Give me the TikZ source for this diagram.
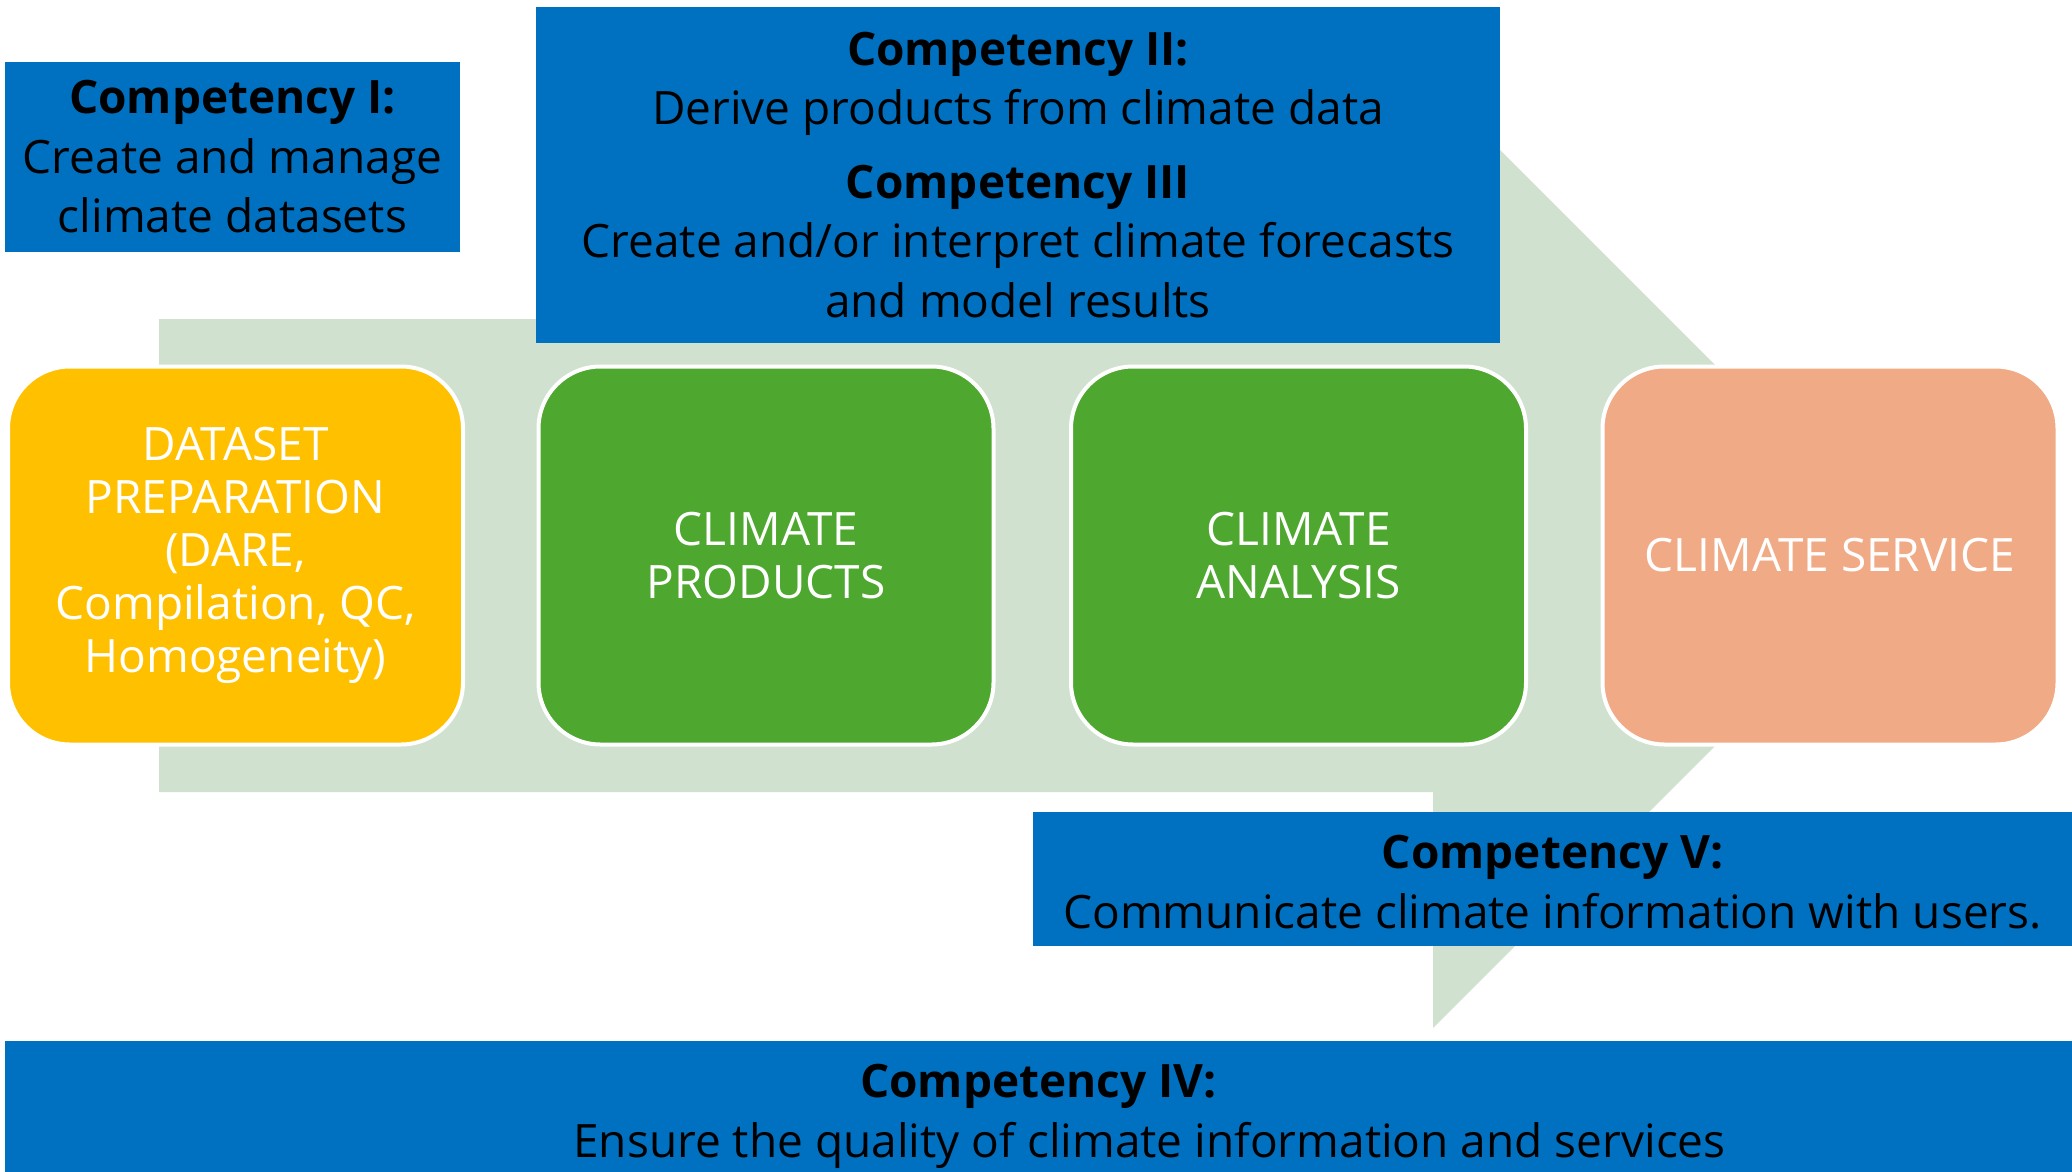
\documentclass[tikz,border=0pt]{standalone}
\usepackage{fontspec}
\setmainfont{Open Sans}
\definecolor{compblue}{HTML}{0070C0}
\definecolor{flowgreen}{HTML}{D0E2CF}
\definecolor{prepyellow}{HTML}{FFC000}
\definecolor{stepgreen}{HTML}{4EA72E}
\definecolor{serviceorange}{HTML}{F1AA86}
\tikzset{
  compbox/.style={fill=compblue, draw=none, inner sep=0pt, align=center,
    text=black, font=\fontsize{23}{29.75}\selectfont},
  comptext/.style={inner sep=0pt, align=center, text=black,
    font=\fontsize{23}{29.75}\selectfont},
  stagebox/.style={draw=white, line width=2pt, rounded corners=31pt,
    minimum width=227.5pt, minimum height=189pt, inner sep=0pt, align=center,
    text=white, font=\fontsize{23}{26.5}\selectfont},
}
\begin{document}
\begin{tikzpicture}[x=0.5pt, y=-0.5pt]
  % canvas
  \fill[white] (0,0) rectangle (2072,1172);
  \useasboundingbox (0,0) rectangle (2072,1172);

  % broad flow arrow behind the stages
  \fill[flowgreen] (159,319) -- (1433,319) -- (1433,83) -- (1905.5,555.5)
    -- (1433,1028) -- (1433,792) -- (159,792) -- cycle;

  % competency labels
  \node[compbox, minimum width=227.5pt, minimum height=95pt] (c1) at (232.5,157)
    {\textbf{Competency I:}\\Create and manage\\climate datasets};
  \node[compbox, minimum width=482pt, minimum height=168pt] (c23) at (1018,175)
    {\textbf{Competency II:}\\Derive products from climate data\\[7pt]
     \textbf{Competency III}\\Create and/or interpret climate forecasts\\and model results};

  % stages
  \node[stagebox, fill=prepyellow] (prep) at (235.5,555.5)
    {DATASET\\PREPARATION\\(DARE,\\Compilation, QC,\\Homogeneity)};
  \node[stagebox, fill=stepgreen] (prod) at (766,555.5) {CLIMATE\\PRODUCTS};
  \node[stagebox, fill=stepgreen] (anal) at (1298.5,555.5) {CLIMATE\\ANALYSIS};
  \node[stagebox, fill=serviceorange] (serv) at (1830,555.5) {CLIMATE SERVICE};

  \node[compbox, minimum width=519.5pt, minimum height=67pt] (c5) at (1552.5,879) {};
  \node[comptext] (c5text) at ([yshift=-1.5pt]c5.center)
    {\textbf{Competency V:}\\Communicate climate information with users.};
  \node[compbox, minimum width=1033.5pt, minimum height=65.5pt] (c4) at (1038.5,1106.5) {};
  \node[comptext] (c4text) at ([yshift=-5pt]c4.center)
    {\textbf{Competency IV:}\\\hspace*{111pt}Ensure the quality of climate information and services};
\end{tikzpicture}
\end{document}
